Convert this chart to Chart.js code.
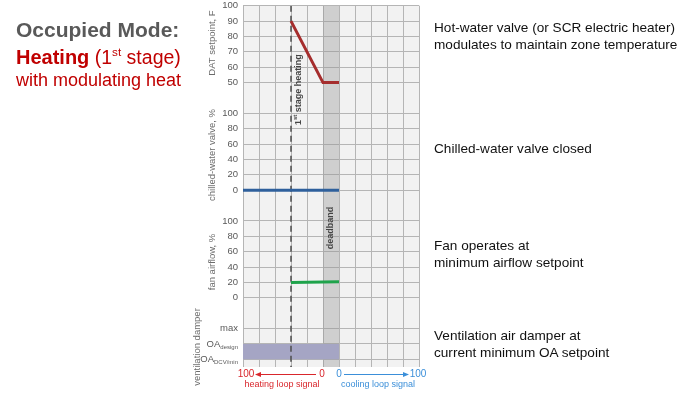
<!DOCTYPE html>
<html>
<head>
<meta charset="utf-8">
<script src="https://cdn.jsdelivr.net/npm/chart.js@4/dist/chart.umd.min.js"></script>
<style>
  html, body { margin: 0; padding: 0; background: #fff; }
  body { width: 697px; height: 397px; position: relative; overflow: hidden; font-family: Arial, "Liberation Sans", sans-serif; }
  /* Chart.js keeps ~10px above the plot for the top label, so the canvas is lifted 5px */
  #chart { position: absolute; left: 0; top: -5px; }
  .txt { position: absolute; white-space: nowrap; }
  .title { left: 16px; color: #c00000; }
  .note { left: 434px; font-size: 13.6px; line-height: 16.6px; color: #111; }
  sup { font-size: 0.6em; vertical-align: 0.7em; line-height: 0; }
</style>
</head>
<body>
<canvas id="chart" width="697" height="402"></canvas>

<div class="txt title" style="top:18px; font-size:21px; line-height:24px; font-weight:bold; color:#595959;">Occupied Mode:</div>
<div class="txt title" style="top:45px; font-size:19.5px; line-height:24px;"><b style="font-size:20px;">Heating</b> (1<sup>st</sup> stage)</div>
<div class="txt title" style="top:68px; font-size:18px; line-height:24px;">with modulating heat</div>

<div class="txt note" style="top:20px;">Hot-water valve (or SCR electric heater)<br>modulates to maintain zone temperature</div>
<div class="txt note" style="top:141px;">Chilled-water valve closed</div>
<div class="txt note" style="top:238px;">Fan operates at<br>minimum airflow setpoint</div>
<div class="txt note" style="top:328px;">Ventilation air damper at<br>current minimum OA setpoint</div>

<script>
// loop signal axis: heating 100..0 -> -100..0, deadband 0..20, cooling 0..100 -> 20..120
const xTicks = [-100, -80, -60, -40, -20, 0, 20, 40, 60, 80, 100, 120];

const datLoopX = [-40, 0, 20];
const datSetpointF = [90, 50, 50];
const chwLoopX = [-100, 20];
const chwValvePct = [0, 0];
const fanLoopX = [-40, 20];
const fanAirflowPct = [20, 21];
const stageLineX = -40;
const deadbandX = [0, 20];
const ventBandX = [-100, 20];

const datTicks = [100, 90, 80, 70, 60, 50];
const chwTicks = [100, 80, 60, 40, 20, 0];
const fanTicks = [100, 80, 60, 40, 20, 0];
const ventTicks = ["max", "OA", "OA"];
const ventSubs = ["", "design", "DCV/min"];

// each panel is a block of rows on one reversed y axis
const datRow = (v) => (100 - v) / 10;
const chwRow = (v) => 7 + (100 - v) / 20;
const fanRow = (v) => 14 + (100 - v) / 20;
const ventRow = (i) => 21 + i;
const yBottom = 23.5;

const tickRows = [];
const tickLabels = new Map();
datTicks.forEach((v) => { tickRows.push(datRow(v)); tickLabels.set(datRow(v), String(v)); });
chwTicks.forEach((v) => { tickRows.push(chwRow(v)); tickLabels.set(chwRow(v), String(v)); });
fanTicks.forEach((v) => { tickRows.push(fanRow(v)); tickLabels.set(fanRow(v), String(v)); });
ventTicks.forEach((v, i) => { tickRows.push(ventRow(i)); tickLabels.set(ventRow(i), ventSubs[i] ? "" : v); });

const FONT = 'Arial, "Liberation Sans", sans-serif';
const SHIFT = 5; // canvas offset, page y = canvas y - SHIFT

function points(xs, ys) {
  return xs.map((x, i) => ({ x: x, y: ys[i] }));
}

const decorPlugin = {
  id: "decor",
  beforeDraw(chart) {
    const { ctx, chartArea } = chart;
    ctx.save();
    ctx.fillStyle = "#f2f2f2";
    ctx.fillRect(chartArea.left, chartArea.top, chartArea.right - chartArea.left, chartArea.bottom - chartArea.top);
    ctx.restore();
  },
  afterDraw(chart) {
    const { ctx, chartArea } = chart;
    const xs = chart.scales.x;
    const ys = chart.scales.y;

    ctx.save();
    ctx.translate(0, SHIFT);
    // rotated axis titles
    function vtext(text, x, y, font, color) {
      ctx.save();
      ctx.translate(x, y);
      ctx.rotate(-Math.PI / 2);
      ctx.font = font;
      ctx.fillStyle = color;
      ctx.textAlign = "center";
      ctx.textBaseline = "middle";
      ctx.fillText(text, 0, 0);
      ctx.restore();
    }
    const axisFont = "9.5px " + FONT;
    vtext("DAT setpoint, F", 212, 43, axisFont, "#6b6b6b");
    vtext("chilled-water valve, %", 212, 155, axisFont, "#6b6b6b");
    vtext("fan airflow, %", 212, 262, axisFont, "#6b6b6b");
    vtext("ventilation damper", 197, 347, axisFont, "#6b6b6b");

    // OA tick labels with subscripts
    ventTicks.forEach((label, i) => {
      if (!ventSubs[i]) return;
      const y = ys.getPixelForValue(ventRow(i)) - SHIFT;
      ctx.font = "9.5px " + FONT;
      const w1 = ctx.measureText(label).width;
      ctx.font = "6px " + FONT;
      const w2 = ctx.measureText(ventSubs[i]).width;
      const right = chartArea.left - 5;
      ctx.fillStyle = "#595959";
      ctx.textBaseline = "middle";
      ctx.textAlign = "left";
      ctx.font = "9.5px " + FONT;
      ctx.fillText(label, right - w1 - w2, y);
      ctx.font = "6px " + FONT;
      ctx.fillText(ventSubs[i], right - w2, y + 3);
    });

    // "1st stage heating" next to the dashed line
    ctx.save();
    ctx.translate(xs.getPixelForValue(stageLineX) + 7.5, 125);
    ctx.rotate(-Math.PI / 2);
    ctx.fillStyle = "#444";
    ctx.textBaseline = "middle";
    ctx.textAlign = "left";
    ctx.font = "bold 9px " + FONT;
    ctx.fillText("1", 0, 0);
    let off = ctx.measureText("1").width;
    ctx.font = "bold 6px " + FONT;
    ctx.fillText("st", off, -3);
    off += ctx.measureText("st").width;
    ctx.font = "bold 9px " + FONT;
    ctx.fillText(" stage heating", off, 0);
    ctx.restore();

    // deadband label
    vtext("deadband", (xs.getPixelForValue(deadbandX[0]) + xs.getPixelForValue(deadbandX[1])) / 2, 228, "bold 9px " + FONT, "#444");

    // loop signal labels
    const red = "#d9262c";
    const blue = "#3b8fd9";
    const rowY = chartArea.bottom - SHIFT + 7;
    ctx.font = "10px " + FONT;
    ctx.textBaseline = "middle";
    ctx.textAlign = "center";
    ctx.fillStyle = red;
    ctx.fillText("100", xs.getPixelForValue(-100) + 3, rowY);
    ctx.fillText("0", xs.getPixelForValue(0) - 1, rowY);
    ctx.fillStyle = blue;
    ctx.fillText("0", xs.getPixelForValue(20), rowY);
    ctx.fillText("100", xs.getPixelForValue(120) - 1, rowY);
    ctx.font = "9px " + FONT;
    ctx.fillStyle = red;
    ctx.fillText("heating loop signal", 282, rowY + 11);
    ctx.fillStyle = blue;
    ctx.fillText("cooling loop signal", 378, rowY + 11);

    function arrow(x1, x2, y, color) {
      ctx.strokeStyle = color;
      ctx.fillStyle = color;
      ctx.lineWidth = 1;
      ctx.beginPath();
      ctx.moveTo(x1, y);
      ctx.lineTo(x2, y);
      ctx.stroke();
      const d = x2 > x1 ? 1 : -1;
      ctx.beginPath();
      ctx.moveTo(x2 + d * 2, y);
      ctx.lineTo(x2 - d * 4, y - 2.5);
      ctx.lineTo(x2 - d * 4, y + 2.5);
      ctx.closePath();
      ctx.fill();
    }
    arrow(316, 257, rowY + 0.5, red);
    arrow(344, 407, rowY + 0.5, blue);
    ctx.restore();
  },
};

new Chart(document.getElementById("chart"), {
  type: "line",
  data: {
    datasets: [
      {
        label: "deadband",
        data: points(deadbandX, [0, 0]),
        borderWidth: 0,
        pointRadius: 0,
        backgroundColor: "rgba(150,150,150,0.38)",
        fill: { value: yBottom },
        order: 6,
      },
      {
        label: "OA band",
        data: points(ventBandX, [ventRow(1), ventRow(1)]),
        borderWidth: 0,
        pointRadius: 0,
        backgroundColor: "#a5a5c4",
        fill: { value: ventRow(2) },
        order: 5,
      },
      {
        label: "1st stage",
        data: points([stageLineX, stageLineX], [0, yBottom]),
        borderColor: "#4d4d4d",
        borderWidth: 1.5,
        borderDash: [6, 4],
        pointRadius: 0,
        fill: false,
        order: 4,
      },
      {
        label: "DAT setpoint",
        data: points(datLoopX, datSetpointF.map(datRow)),
        borderColor: "#a52d2d",
        borderWidth: 3,
        pointRadius: 0,
        fill: false,
        order: 1,
      },
      {
        label: "chilled-water valve",
        data: points(chwLoopX, chwValvePct.map(chwRow)),
        borderColor: "#2f609c",
        borderWidth: 3,
        pointRadius: 0,
        fill: false,
        order: 1,
      },
      {
        label: "fan airflow",
        data: points(fanLoopX, fanAirflowPct.map(fanRow)),
        borderColor: "#1fa34b",
        borderWidth: 3,
        pointRadius: 0,
        fill: false,
        order: 1,
      },
    ],
  },
  options: {
    responsive: false,
    devicePixelRatio: 1,
    animation: false,
    layout: { autoPadding: false, padding: { left: 198, right: 278, top: 0, bottom: 30 } },
    plugins: {
      legend: { display: false },
      tooltip: { enabled: false },
    },
    scales: {
      x: {
        type: "linear",
        min: xTicks[0],
        max: xTicks[xTicks.length - 1],
        afterBuildTicks: (scale) => { scale.ticks = xTicks.map((v) => ({ value: v })); },
        afterFit: (scale) => { scale.height = 0; },
        ticks: { display: false },
        grid: { color: "#b5b5b5", drawTicks: false },
        border: { display: false },
      },
      y: {
        type: "linear",
        reverse: true,
        min: 0,
        max: yBottom,
        afterBuildTicks: (scale) => { scale.ticks = tickRows.map((v) => ({ value: v })); },
        afterFit: (scale) => { scale.width = 45; },
        ticks: {
          autoSkip: false,
          padding: 5,
          color: "#595959",
          font: { size: 9.5, family: FONT },
          callback: (value) => tickLabels.get(value) ?? "",
        },
        grid: { color: "#b5b5b5", drawTicks: false },
        border: { display: false },
      },
    },
  },
  plugins: [decorPlugin],
});
</script>
</body>
</html>
